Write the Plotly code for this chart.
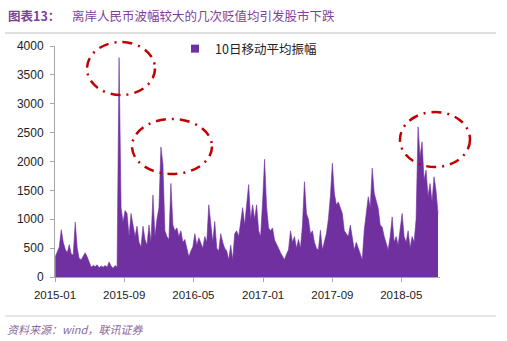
import pandas as pd
import plotly.graph_objects as go

# Weekly (Friday) 10-day moving-average amplitude
v2015 = [350, 450, 520, 820, 600,
         480, 420, 560, 400,
         380, 950, 500, 320,
         300, 360, 420, 350,
         250, 170, 200, 180, 210,
         160, 190, 170, 200,
         170, 260, 190, 150, 200,
         170, 3800, 1200, 950,
         1150, 1100, 700, 1100,
         900, 700, 880, 600, 520,
         880, 650, 550, 900,
         600, 1420, 700, 1000]
v2016 = [1200, 2250, 1950, 800, 700,
         650, 1620, 900, 800,
         850, 700, 800, 600,
         650, 500, 350, 450, 520,
         750, 550, 680, 600,
         500, 700, 600, 1250,
         900, 600, 960, 500, 450,
         750, 600, 500, 450,
         300, 550, 300, 750, 800,
         700, 1000, 1200, 900,
         1200, 1600, 1000, 1250,
         1000, 1250, 800, 700, 1300]
v2017 = [2040, 1215, 850, 800,
         850, 640, 580, 500,
         420, 360, 300, 400, 470,
         800, 600, 700, 500,
         650, 500, 900, 1650,
         1100, 1000, 750, 800, 600,
         500, 470, 810, 470,
         600, 750, 1000, 1400,
         1970, 1450, 1250, 1300, 1200,
         1100, 800, 760, 700,
         900, 700, 470, 600,
         500, 400, 300, 810, 1070]
v2018 = [1390, 1200, 1885, 1450,
         1300, 1190, 900, 865,
         700, 600, 470, 700, 1040,
         600, 700, 550, 800,
         1100, 700, 600, 800,
         500, 700, 600, 1000, 2600,
         2080, 2340, 1680, 1850,
         1400, 1620, 1300, 1735, 1500,
         1100]
values = v2015 + v2016 + v2017 + v2018
dates = pd.date_range(start="2015-01-02", periods=len(values), freq="7D")

tick_vals = ["2015-01-01", "2015-09-01", "2016-05-01", "2017-01-01", "2017-09-01", "2018-05-01"]
tick_text = ["2015-01", "2015-09", "2016-05", "2017-01", "2017-09", "2018-05"]
y_ticks = [0, 500, 1000, 1500, 2000, 2500, 3000, 3500, 4000]

series_name = "10日移动平均振幅"
title_label = "图表13："
title_text = "离岸人民币波幅较大的几次贬值均引发股市下跌"
source_text = "资料来源：wind，联讯证券"

PURPLE = "#7030A0"
W, H = 507, 341
L, R, T, B = 55, 67, 46, 64
PW, PH = W - L - R, H - T - B


def px(x):
    return (x - L) / PW


def py(y):
    return (H - B - y) / PH


fig = go.Figure()
fig.add_trace(go.Scatter(
    x=dates, y=values, mode="lines", fill="tozeroy",
    line=dict(color=PURPLE, width=0.6), fillcolor=PURPLE,
    showlegend=False, hoverinfo="x+y"))
fig.add_trace(go.Scatter(
    x=[None], y=[None], mode="markers", name=series_name,
    marker=dict(symbol="square", size=8, color=PURPLE)))

fig.update_layout(
    width=W, height=H,
    margin=dict(l=L, r=R, t=T, b=B),
    paper_bgcolor="white", plot_bgcolor="white",
    font=dict(family="Liberation Sans, Noto Sans CJK SC", size=11, color="#222"),
    legend=dict(x=px(175), y=py(49), xanchor="left", yanchor="middle",
                bgcolor="rgba(0,0,0,0)", font=dict(size=12.5, family="Noto Sans CJK SC", color="#222"),
                itemwidth=30, tracegroupgap=0),
    xaxis=dict(type="date", range=["2015-01-01", "2018-09-14"],
               tickvals=tick_vals, ticktext=tick_text,
               showgrid=False, showline=True, linecolor="#A6A6A6", linewidth=1,
               ticks="outside", ticklen=4, tickcolor="#A6A6A6", ticklabelstandoff=3,
               tickfont=dict(size=11.5, color="#222"), zeroline=False),
    yaxis=dict(range=[0, 4000], tickvals=y_ticks,
               showgrid=False, showline=True, linecolor="#A6A6A6", linewidth=1,
               ticks="outside", ticklen=4, tickcolor="#A6A6A6", ticklabelstandoff=4,
               tickfont=dict(size=12, color="#222"), zeroline=False),
)

# header / footer rules
fig.add_shape(type="line", xref="paper", yref="paper",
              x0=px(5), x1=px(496), y0=py(33), y1=py(33),
              line=dict(color="#BFBFBF", width=1))
fig.add_shape(type="line", xref="paper", yref="paper",
              x0=px(5), x1=px(496), y0=py(316), y1=py(316),
              line=dict(color="#D0D0D0", width=1))

# red dash-dot ellipses
for (x0, x1, y0, y1) in [(87, 155, 42, 95), (132, 212, 119, 174), (400, 470, 112, 167)]:
    fig.add_shape(type="circle", xref="paper", yref="paper",
                  x0=px(x0), x1=px(x1), y0=py(y1), y1=py(y0),
                  line=dict(color="#C00000", width=2.5, dash="10px,6px,2px,6px"))

fig.add_annotation(xref="paper", yref="paper", x=px(6), y=py(15), xanchor="left", yanchor="middle",
                   text="<b>" + title_label + "</b>", showarrow=False,
                   font=dict(family="Noto Sans CJK SC", size=12.5, color="#7F3F98"))
fig.add_annotation(xref="paper", yref="paper", x=px(70), y=py(15), xanchor="left", yanchor="middle",
                   text=title_text, showarrow=False,
                   font=dict(family="Noto Sans CJK SC", size=12.5, color="#7F3F98"))
fig.add_annotation(xref="paper", yref="paper", x=px(5), y=py(329), xanchor="left", yanchor="middle",
                   text="<i>" + source_text + "</i>", showarrow=False,
                   font=dict(family="Noto Sans CJK SC", size=11, color="#8A6A9A"))

fig.write_html("out.html")
